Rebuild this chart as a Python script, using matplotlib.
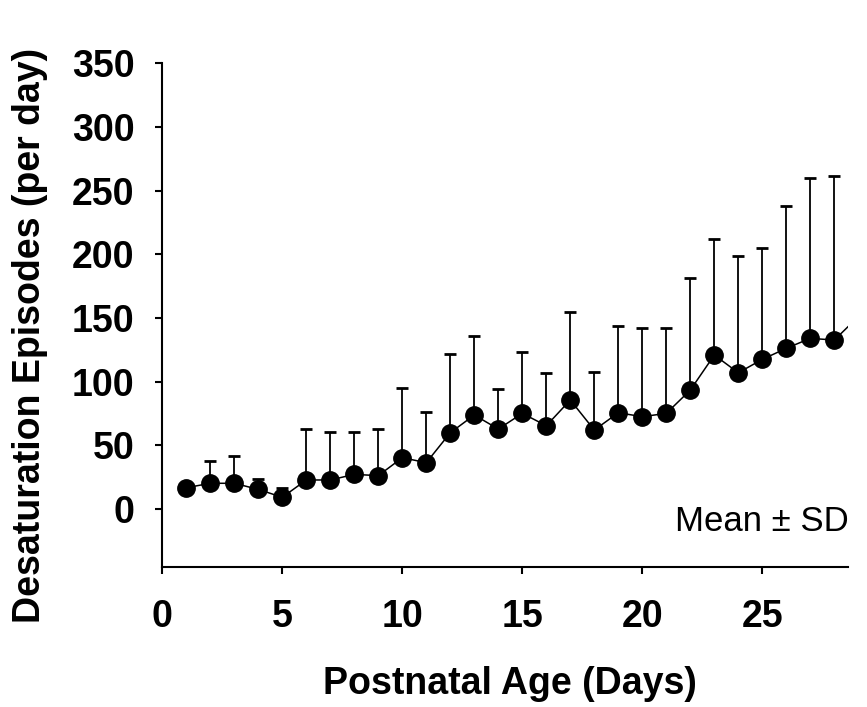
import numpy as np
import matplotlib
matplotlib.use("Agg")
import matplotlib.pyplot as plt

plt.rcParams['font.family'] = ['Liberation Sans', 'DejaVu Sans']

# Daily desaturation episodes: mean and upper SD bound
days = list(range(1, 29))
mean_episodes = [16.7, 20.2, 20.2, 15.4, 9.2, 22.8, 22.8, 27.2, 26.2, 40.3,
                 36.4, 59.9, 73.8, 62.8, 75.1, 65.4, 85.6, 62.0, 75.6, 72.5,
                 75.1, 93.4, 120.9, 107.0, 117.5, 126.2, 134.0, 132.7]
upper_sd = [16.7, 37.9, 41.9, 23.3, 16.2, 62.6, 60.7, 60.2, 62.6, 95.3,
            76.2, 122.0, 136.1, 94.0, 123.0, 106.8, 154.7, 107.8, 143.7, 142.1,
            142.1, 181.2, 211.8, 198.7, 205.2, 238.2, 259.7, 261.5]
# the connecting line runs on past the last plotted day
next_day = 29
next_mean = 151.0

x_ticks = [0, 5, 10, 15, 20, 25]
y_ticks = [0, 50, 100, 150, 200, 250, 300, 350]

W, H = 867, 707
fig = plt.figure(figsize=(W / 100, H / 100), dpi=100)
ax = fig.add_axes([162.3 / W, 1 - 566.7 / H, (848 - 162.3) / W,
                   (566.7 - 63.3) / H])

mean_arr = np.array(mean_episodes)
err_up = np.array(upper_sd) - mean_arr
err_dn = np.zeros_like(err_up)

ax.plot(days + [next_day], mean_episodes + [next_mean], color='black', lw=1.1,
        zorder=2)
ax.errorbar(days, mean_episodes, yerr=[err_dn, err_up], fmt='none',
            ecolor='black', elinewidth=1.3, capsize=4.3, capthick=2.0,
            zorder=2)
ax.plot(days, mean_episodes, 'o', color='black', markersize=12.5, zorder=3)

ax.set_xlim(0, 28.57)
ax.set_ylim(-45.3, 350)
ax.set_xticks(x_ticks)
ax.set_yticks(y_ticks)

for side in ('top', 'right'):
    ax.spines[side].set_visible(False)
for side in ('left', 'bottom'):
    ax.spines[side].set_linewidth(1.5)

ax.tick_params(axis='both', direction='out', length=5, width=1.5,
               labelsize=27)
ax.tick_params(axis='x', pad=18)
ax.tick_params(axis='y', pad=15)
for lbl in ax.get_xticklabels() + ax.get_yticklabels():
    lbl.set_fontweight('bold')

fig.text(509.5 / W, 13 / H, 'Postnatal Age (Days)', fontsize=27,
         fontweight='bold', ha='center', va='baseline')
fig.text(30 / W, (H - 335) / H, 'Desaturation Episodes (per day)',
         fontsize=27, fontweight='bold', rotation=90, ha='center',
         va='center')

fig.text(848.6 / W, (H - 531) / H, 'Mean ± SD', fontsize=25,
         ha='right', va='baseline')

fig.savefig('out.png', dpi=100)
